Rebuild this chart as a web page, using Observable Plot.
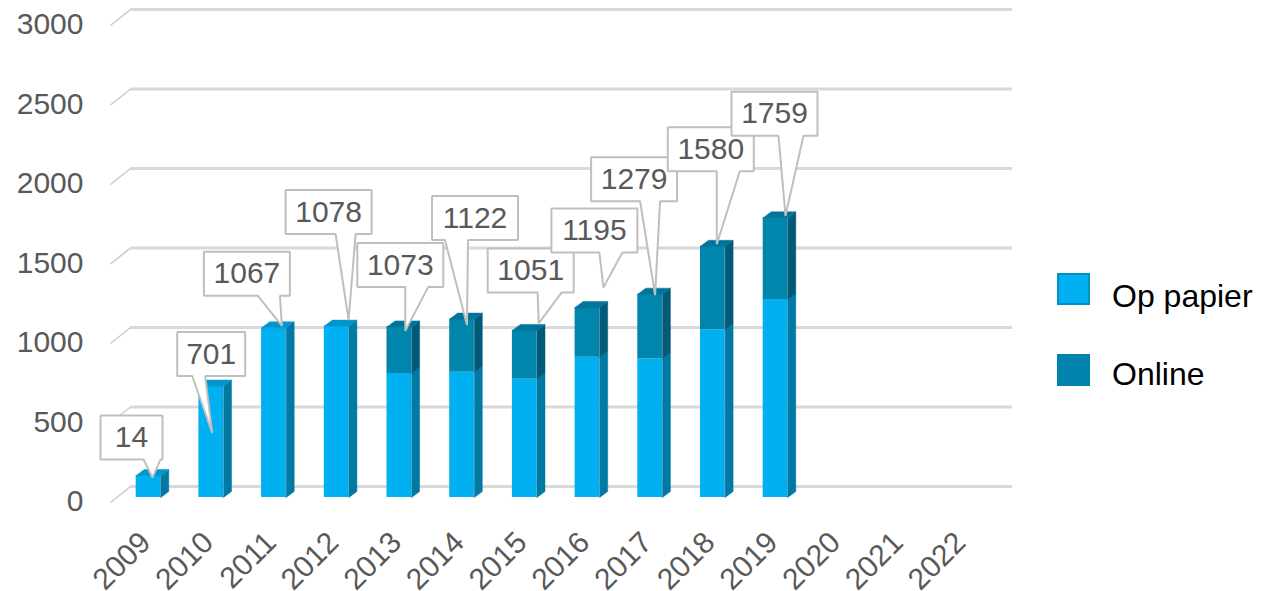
<!DOCTYPE html>
<html>
<head>
<meta charset="utf-8">
<script src="https://cdn.jsdelivr.net/npm/d3@7"></script>
<script src="https://cdn.jsdelivr.net/npm/@observablehq/plot@0.6"></script>
<style>
  body { margin: 0; background: #fff; }
  #wrap { position: relative; width: 1268px; height: 591px; font-family: "Liberation Sans", Arial, sans-serif; overflow: hidden; }
  #chart svg { display: block; overflow: visible; }
  .sw { position: absolute; width: 33px; height: 32px; box-sizing: border-box; }
  .lab { position: absolute; font-size: 32px; line-height: 32px; color: #000; white-space: nowrap; }
</style>
</head>
<body>
<div id="wrap">
  <div id="chart"></div>
  <div class="sw" style="left:1057px;top:273px;background:#00b0f0;border:2px solid #0090c4;"></div>
  <div class="lab" id="lab0" style="left:1112px;top:280px;"></div>
  <div class="sw" style="left:1057px;top:354px;background:#0084ad;"></div>
  <div class="lab" id="lab1" style="left:1112px;top:358px;"></div>
</div>
<script>
// ---- data ----
const years = ["2009","2010","2011","2012","2013","2014","2015","2016","2017","2018","2019","2020","2021","2022"];
const paper  = [138, 701, 1067, 1078, 780, 788, 744, 882, 872, 1055, 1245];
const online = [0, 0, 0, 0, 293, 334, 307, 313, 407, 525, 514];
const labels = ["14","701","1067","1078","1073","1122","1051","1195","1279","1580","1759"];
const yTicks = [0, 500, 1000, 1500, 2000, 2500, 3000];
const seriesNames = ["Op papier", "Online"];

// ---- layout (pixel offsets for callouts: tipDx, tipDy, boxDx, boxDy, baseLeft, baseWidth) ----
const calloutLayout = [
  [4, 2, -21, -40, 12, 17],
  [1, 47, -1, -79, -19, 13],
  [8, -2, -35, -52, 11, 22],
  [12, -6, -20, -108, 7, 20],
  [6, 4, -5, -66, 5, 23],
  [5, 6, 8, -107, -30, 23],
  [14, -7, -8, -53, 7, 24],
  [16, -20, -9, -57, 5, 23],
  [5, 1, -21, -116, 6, 20],
  [4, -2, -6, -95, 6, 23],
  [10, -2, -11, -102, 4, 25]
];
const boxW = {2: 62, 3: 68, 4: 86};

const frontCol = ["#00b0f0", "#0085ad"];
const sideCol  = ["#0079a3", "#005a78"];
const topCol   = ["#0096cc", "#00759b"];
const FONT = "Liberation Sans, Arial, sans-serif";

document.getElementById("lab0").textContent = seriesNames[0];
document.getElementById("lab1").textContent = seriesNames[1];

const xOpts = {domain: [0, years.length - 1], range: [148, 148 + 62.7 * (years.length - 1)]};
const yOpts = {domain: [0, 3000], range: [497, 20]};
const xs = Plot.scale({x: xOpts});
const ys = Plot.scale({y: yOpts});
const PX = v => xs.apply(v), PY = v => ys.apply(v);
const ix = p => xs.invert(p), iy = p => ys.invert(p);

const hw = ix(PX(0) + 12.3) - 0;
const ddx = ix(PX(0) + 8) - 0;
const ddy = iy(PY(0) - 6) - 0;

// segments
const segs = [];
paper.forEach((p, i) => {
  segs.push({i, y0: 0, y1: p, s: 0});
  if (online[i] > 0) segs.push({i, y0: p, y1: p + online[i], s: 1});
});
const sidePts = [[], []];
segs.forEach((d, k) => {
  const id = "s" + k;
  sidePts[d.s].push(
    {id, x: d.i + hw, y: d.y0},
    {id, x: d.i + hw + ddx, y: d.y0 + ddy},
    {id, x: d.i + hw + ddx, y: d.y1 + ddy},
    {id, x: d.i + hw, y: d.y1}
  );
});
const topPts = [[], []];
paper.forEach((p, i) => {
  const s = online[i] > 0 ? 1 : 0;
  const T = p + online[i];
  const id = "t" + i;
  topPts[s].push(
    {id, x: i - hw, y: T},
    {id, x: i - hw + ddx, y: T + ddy},
    {id, x: i + hw + ddx, y: T + ddy},
    {id, x: i + hw, y: T}
  );
});

const poly = (pts, fill) => Plot.line(pts, {x: "x", y: "y", z: "id", fill, stroke: fill, strokeWidth: 0.5, curve: "linear-closed"});

// callouts
const calloutMarks = [];
labels.forEach((lab, i) => {
  const [tdx, tdy, bdx, bdy, blo, bw] = calloutLayout[i];
  const total = paper[i] + online[i];
  const tx = PX(i) + tdx, ty = PY(total) + tdy;
  const cx = tx + bdx, cy = ty + bdy;
  const w = boxW[lab.length], h = 44;
  const l = cx - w / 2, r = cx + w / 2, t = cy - h / 2, b = cy + h / 2;
  const bl = cx + blo;
  const pts = [[l, t], [r, t], [r, b], [bl + bw, b], [tx, ty], [bl, b], [l, b]]
    .map(([px, py]) => ({x: ix(px), y: iy(py)}));
  calloutMarks.push(Plot.line(pts, {x: "x", y: "y", curve: "linear-closed", fill: "white", stroke: "#bfbfbf", strokeWidth: 2, strokeLinejoin: "miter"}));
  calloutMarks.push(Plot.text([lab], {x: () => ix(cx), y: () => iy(cy), text: d => d, fontSize: 30, fill: "#595959", fontFamily: FONT}));
});

const chart = Plot.plot({
  width: 1268,
  height: 591,
  margin: 0,
  style: {fontFamily: FONT, background: "white", overflow: "visible"},
  x: {...xOpts, axis: null},
  y: {...yOpts, axis: null},
  marks: [
    // back wall gridlines
    Plot.link(yTicks, {x1: () => ix(110), y1: d => iy(PY(d) + 5), x2: () => ix(130), y2: d => iy(PY(d) - 11), stroke: "#c9c9c9", strokeWidth: 1.5}),
    Plot.ruleY(yTicks, {y: d => d, x1: () => ix(130), x2: () => ix(1012), dy: -11, stroke: "#d9d9d9", strokeWidth: 3}),
    // bars
    Plot.rect(segs, {x1: d => d.i - hw, x2: d => d.i + hw, y1: "y0", y2: "y1", fill: d => frontCol[d.s]}),
    poly(sidePts[0], sideCol[0]),
    poly(sidePts[1], sideCol[1]),
    poly(topPts[0], topCol[0]),
    poly(topPts[1], topCol[1]),
    ...calloutMarks,
    // y labels
    Plot.text(yTicks, {x: () => ix(83), y: d => d, text: d => String(d), dy: 4, textAnchor: "end", fontSize: 30, fill: "#595959", fontFamily: FONT}),
    // x labels
    Plot.text(years, {x: (d, i) => i, y: () => iy(537), text: d => d, dx: -3, rotate: -45, textAnchor: "end", fontSize: 30, fill: "#595959", fontFamily: FONT})
  ],
  color: {type: "identity"}
});
document.getElementById("chart").appendChild(chart);
</script>
</body>
</html>
